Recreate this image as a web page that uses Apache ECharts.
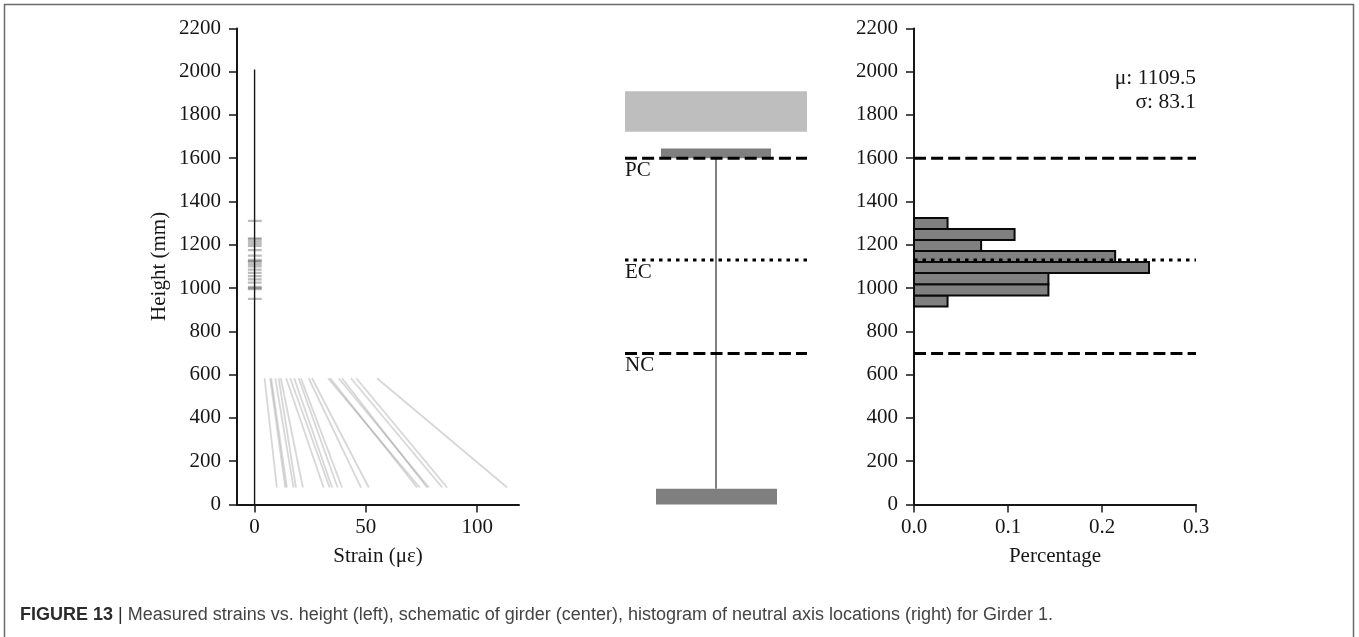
<!DOCTYPE html>
<html><head><meta charset="utf-8">
<style>html,body{margin:0;padding:0;background:#fff}#c{width:1359px;height:637px}</style>
<script src="https://cdn.jsdelivr.net/npm/echarts@6/dist/echarts.min.js"></script>
</head><body><div id="c"></div>
<script>
// Left panel: strain profiles, each [strain at top, strain at bottom]
const profileHeights = [583, 78];
const profileTop    = [4.5,7.0,7.5,9.3,10.8,11.8,14.2,16.0,17.8,19.8,20.8,24.3,25.8,33.0,34.0,37.8,39.3,43.3,45.7,55.0];
const profileBottom = [10.0,13.8,14.5,17.5,18.6,21.7,31.0,33.7,34.8,37.3,39.3,47.8,51.3,74.2,73.0,78.3,77.5,84.3,86.5,113.5];
// Left panel: neutral-axis marks
const naHeights = [950,995,1000,1005,1025,1040,1055,1070,1085,1100,1110,1120,1125,1130,1150,1175,1195,1205,1215,1225,1230,1310];
const naExtent = [-3, 3.2];
const zeroLine = [[0,0],[0,2010]];
// Reference levels
const pcLevel = 1600, ecLevel = 1130, ncLevel = 697;
// Centre panel: girder rectangles [x0, x1, y0, y1]
const slab = [0,182,1722,1910];
const topFlange = [36,146,1600,1645];
const bottomFlange = [31,152,0,72];
const webLine = [[91,72],[91,1600]];
const levelLabels = [['PC',1545],['EC',1070],['NC',640]];
// Right panel: histogram
const histEdges = [915,966,1018,1069,1120,1171,1222,1273,1324];
const histValues = [0.0357,0.143,0.143,0.25,0.214,0.0714,0.107,0.0357];
const stats = [['μ: 1109.5',1971],['σ: 83.1',1860]];
const heightTicks = 200, heightMax = 2200;
const strainTicks = [0,50,100];

const ink = '#161616';
const serif = '"Liberation Serif", serif';
const rectItem = (api, fill, stroke, lw) => {
  const a = api.coord([api.value(0), api.value(2)]);
  const b = api.coord([api.value(1), api.value(3)]);
  return {type:'rect', shape:{x:a[0], y:b[1], width:b[0]-a[0], height:a[1]-b[1]},
    style:{fill, stroke, lineWidth:lw}};
};
const yAxisBase = (i, show) => ({
  gridIndex:i, type:'value', min:0, max:heightMax, interval:heightTicks, show,
  splitLine:{show:false},
  axisLine:{show:true,onZero:false,lineStyle:{color:ink,width:2}},
  axisTick:{show:true,length:8,lineStyle:{color:ink,width:1.5}},
  axisLabel:{color:ink,fontFamily:serif,fontSize:21,margin:16,formatter:v=>String(v)}
});
const xAxisBase = {
  type:'value', splitLine:{show:false}, nameLocation:'middle', nameGap:42,
  nameTextStyle:{color:ink,fontFamily:serif,fontSize:21},
  axisLine:{show:true,onZero:false,lineStyle:{color:ink,width:2}},
  axisTick:{show:true,length:8,lineStyle:{color:ink,width:1.5}},
  axisLabel:{color:ink,fontFamily:serif,fontSize:21,margin:13}
};
const levelLine = (xi, yi, x0, x1, y, dash) => ({
  type:'line', xAxisIndex:xi, yAxisIndex:yi, silent:true, symbol:'none', z:6, clip:false,
  data:[[x0,y],[x1,y]],
  lineStyle:{color:'#000',width:3,type:dash,cap:'butt'}
});
const dashed=[12,5.1], dotted=[3.5,5];

const series = [];
profileTop.forEach((t,i)=>series.push({
  type:'line', xAxisIndex:0, yAxisIndex:0, silent:true, symbol:'none',
  data:[[t,profileHeights[0]],[profileBottom[i],profileHeights[1]]],
  lineStyle:{color:'rgba(110,110,110,0.28)',width:1.8}
}));
naHeights.forEach(h=>series.push({
  type:'line', xAxisIndex:0, yAxisIndex:0, silent:true, symbol:'none',
  data:[[naExtent[0],h],[naExtent[1],h]],
  lineStyle:{color:'rgba(70,70,70,0.36)',width:2.2}
}));
series.push({type:'line',xAxisIndex:0,yAxisIndex:0,silent:true,symbol:'none',z:5,
  data:zeroLine,lineStyle:{color:ink,width:1.4}});

// Centre
series.push({type:'custom',xAxisIndex:1,yAxisIndex:1,silent:true,z:2,clip:false,
  data:[slab],renderItem:(p,api)=>rectItem(api,'#bebebe','none',0)});
series.push({type:'custom',xAxisIndex:1,yAxisIndex:1,silent:true,z:2,clip:false,
  data:[topFlange,bottomFlange],renderItem:(p,api)=>rectItem(api,'#7f7f7f','none',0)});
series.push({type:'line',xAxisIndex:1,yAxisIndex:1,silent:true,symbol:'none',z:3,
  data:webLine,lineStyle:{color:'#808080',width:2}});
series.push(levelLine(1,1,0,182,pcLevel,dashed),levelLine(1,1,0,182,ecLevel,dotted),levelLine(1,1,0,182,ncLevel,dashed));
series.push({type:'custom',xAxisIndex:1,yAxisIndex:1,silent:true,z:7,clip:false,
  data:levelLabels.map(d=>[0,d[1],d[0]]),
  renderItem:(p,api)=>{const c=api.coord([api.value(0),api.value(1)]);
    return {type:'text',x:c[0],y:c[1],style:{text:levelLabels[p.dataIndex][0],fill:ink,font:'21px '+serif,textAlign:'left',textVerticalAlign:'middle'}};}});

// Right
series.push({type:'custom',xAxisIndex:2,yAxisIndex:2,silent:true,z:2,clip:false,
  data:histValues.map((v,i)=>[0,v,histEdges[i],histEdges[i+1]]),
  renderItem:(p,api)=>rectItem(api,'#808080','#0a0a0a',2)});
series.push(levelLine(2,2,0,0.3,pcLevel,dashed),levelLine(2,2,0,0.3,ecLevel,dotted),levelLine(2,2,0,0.3,ncLevel,dashed));
series.push({type:'custom',xAxisIndex:2,yAxisIndex:2,silent:true,z:7,clip:false,
  data:stats.map(d=>[0.3,d[1]]),
  renderItem:(p,api)=>{const c=api.coord([api.value(0),api.value(1)]);
    return {type:'text',x:c[0],y:c[1],style:{text:stats[p.dataIndex][0],fill:ink,font:'21.5px '+serif,textAlign:'right',textVerticalAlign:'middle'}};}});

const chart = echarts.init(document.getElementById('c'),null,{renderer:'canvas'});
chart.setOption({
  animation:false, backgroundColor:'#fff',
  title:{left:15,top:601,itemGap:0,
    text:'{b|FIGURE 13} {s|| }{n|Measured strains vs. height (left), schematic of girder (center), histogram of neutral axis locations (right) for Girder 1.}',
    textStyle:{fontWeight:'normal',rich:{
      b:{fontFamily:'"Liberation Sans"',fontWeight:'bold',fontSize:18,color:'#2b2b2b'},
      s:{fontFamily:'"Liberation Sans"',fontWeight:'normal',fontSize:18,color:'#2b2b2b'},
      n:{fontFamily:'"Liberation Sans"',fontWeight:'normal',fontSize:18,color:'#444'}}}},
  grid:[
    {left:237,width:282,top:28.4,height:476},
    {left:625,width:182,top:28.4,height:476},
    {left:914,width:282,top:28.4,height:476}
  ],
  xAxis:[
    Object.assign({},xAxisBase,{gridIndex:0,min:-7.9,max:118.8,name:'Strain (με)',
      axisTick:Object.assign({},xAxisBase.axisTick,{customValues:strainTicks}),
      axisLabel:Object.assign({},xAxisBase.axisLabel,{customValues:strainTicks})}),
    {gridIndex:1,type:'value',min:0,max:182,show:false,splitLine:{show:false}},
    Object.assign({},xAxisBase,{gridIndex:2,min:0,max:0.3,interval:0.1,name:'Percentage',
      axisLabel:Object.assign({},xAxisBase.axisLabel,{formatter:v=>v.toFixed(1),showMaxLabel:true})})
  ],
  yAxis:[
    Object.assign(yAxisBase(0,true),{name:'Height (mm)',nameLocation:'middle',nameGap:67,
      nameTextStyle:{color:ink,fontFamily:serif,fontSize:21}}),
    yAxisBase(1,false),
    yAxisBase(2,true)
  ],
  series,
  graphic:[{type:'polyline',silent:true,z:100,
    shape:{points:[[4.5,637],[4.5,4.5],[1353.5,4.5],[1353.5,637]]},
    style:{fill:'none',stroke:'#6a6a6a',lineWidth:1.5}}]
});
</script></body></html>
